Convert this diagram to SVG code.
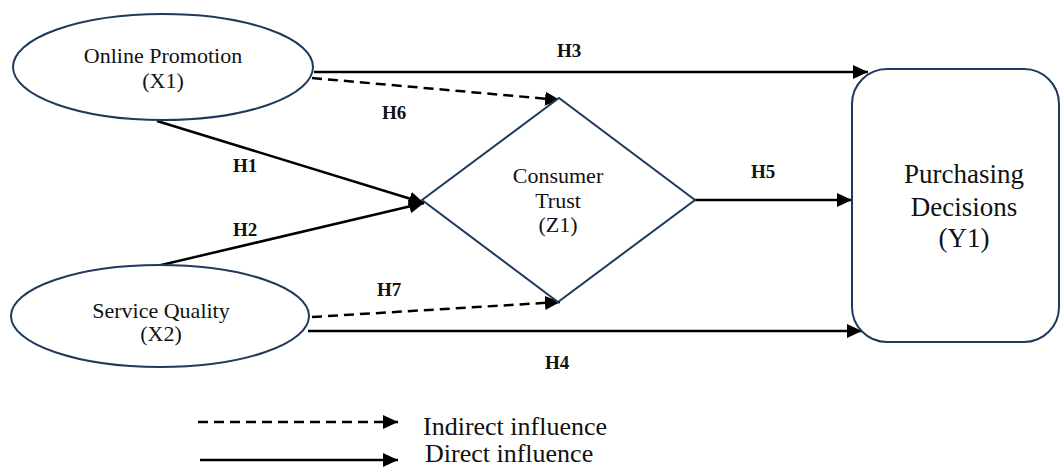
<svg xmlns="http://www.w3.org/2000/svg" width="1062" height="468" viewBox="0 0 1062 468">
<style>
.shape{fill:#fff;stroke:#1f3a5c;stroke-width:2}
.t{font-family:"Liberation Serif",serif;font-size:22px;fill:#111;text-anchor:middle}
.big{font-size:27px}
.h{font-family:"Liberation Serif",serif;font-size:19px;font-weight:bold;fill:#111}
.leg{font-family:"Liberation Serif",serif;font-size:26px;fill:#111}
.c{stroke:#000;stroke-width:2.5;fill:none;marker-end:url(#ah)}
.d{stroke-dasharray:10 6}
</style>
<defs>
<marker id="ah" markerUnits="userSpaceOnUse" markerWidth="16" markerHeight="14" refX="15" refY="7" orient="auto">
<path d="M0,0 L15,7 L0,14 Z" fill="#000"/>
</marker>
</defs>
<g id="connectors">
<line class="c" x1="314" y1="72" x2="868" y2="72"/>
<line class="c d" x1="312" y1="78" x2="560" y2="100"/>
<line class="c" x1="157" y1="121" x2="424" y2="203"/>
<line class="c" x1="157" y1="266" x2="424" y2="203"/>
<line class="c" x1="695" y1="200" x2="852" y2="200"/>
<line class="c d" x1="312" y1="317" x2="560" y2="302"/>
<line class="c" x1="308" y1="331" x2="862" y2="331"/>
<text class="h" x="557" y="57">H3</text>
<text class="h" x="382" y="119">H6</text>
<text class="h" x="233" y="172">H1</text>
<text class="h" x="233" y="236">H2</text>
<text class="h" x="751" y="178">H5</text>
<text class="h" x="377" y="296">H7</text>
<text class="h" x="545" y="369">H4</text>
</g>
<g id="x1">
<ellipse class="shape" cx="163" cy="67" rx="150" ry="53"/>
<text class="t" x="163" y="63">Online Promotion</text>
<text class="t" x="163" y="88">(X1)</text>
</g>
<g id="x2">
<ellipse class="shape" cx="160" cy="316" rx="149" ry="51"/>
<text class="t" x="161" y="318">Service Quality</text>
<text class="t" x="161" y="341">(X2)</text>
</g>
<g id="z1">
<polygon class="shape" points="422,200 559,98 695,200 558,302"/>
<text class="t" x="558" y="183">Consumer</text>
<text class="t" x="558" y="208">Trust</text>
<text class="t" x="558" y="232">(Z1)</text>
</g>
<g id="y1">
<rect class="shape" x="852" y="69" width="207" height="273" rx="35" ry="35"/>
<text class="t big" x="964" y="183">Purchasing</text>
<text class="t big" x="964" y="216">Decisions</text>
<text class="t big" x="964" y="247">(Y1)</text>
</g>
<g id="legend">
<line class="c d" x1="198" y1="422" x2="398" y2="422"/>
<line class="c" x1="200" y1="460" x2="398" y2="460"/>
<text class="leg" x="423" y="435">Indirect influence</text>
<text class="leg" x="425" y="462">Direct influence</text>
</g>
</svg>
